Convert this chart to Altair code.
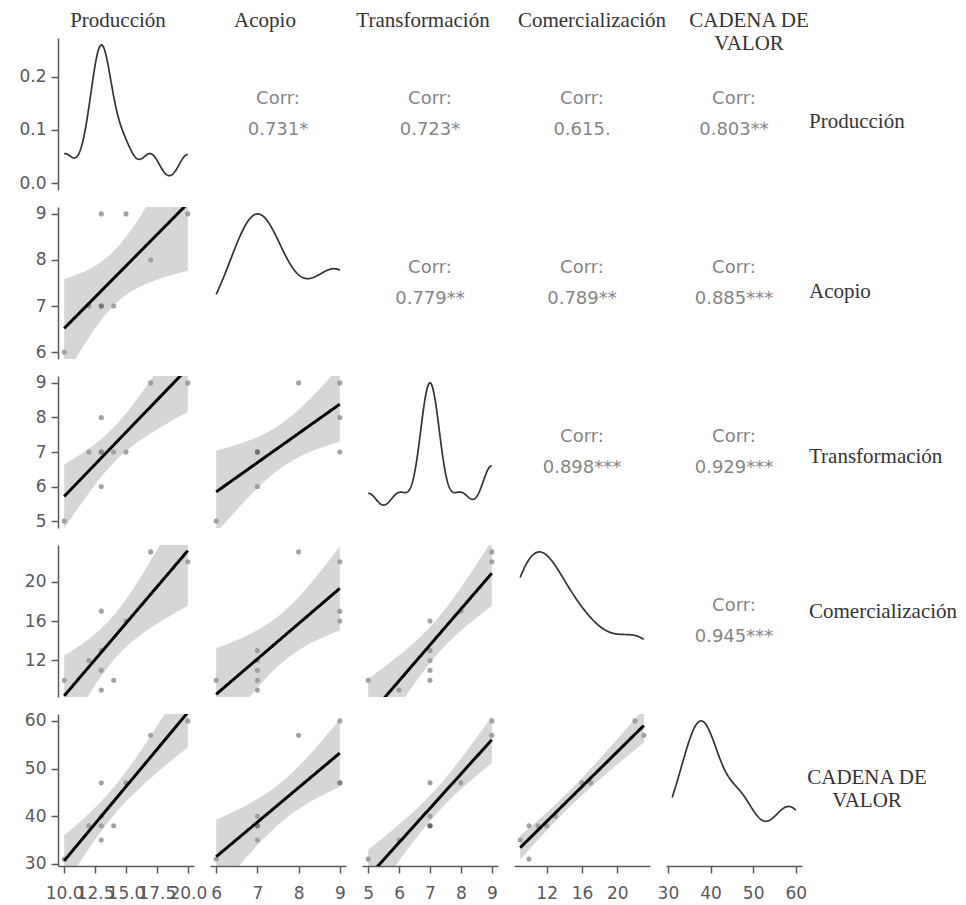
import numpy as np
import pandas as pd
import altair as alt

# ---------------- data ----------------
labels = ["Producción", "Acopio", "Transformación", "Comercialización", "CADENA DE\nVALOR"]
produccion       = [10, 20, 17, 12, 13, 13, 13, 14, 15, 13]
acopio           = [6, 9, 8, 7, 9, 7, 7, 7, 9, 7]
transformacion   = [5, 9, 9, 7, 8, 7, 6, 7, 7, 7]
comercializacion = [10, 22, 23, 12, 17, 11, 9, 10, 16, 13]
cadena_valor     = [31, 60, 57, 38, 47, 38, 35, 38, 47, 40]

# correlation labels, upper triangle in row order
corr_values = ["0.731*", "0.723*", "0.615.", "0.803**",
               "0.779**", "0.789**", "0.885***",
               "0.898***", "0.929***",
               "0.945***"]

axis_ticks = [[10, 12.5, 15, 17.5, 20], [6, 7, 8, 9], [5, 6, 7, 8, 9], [12, 16, 20], [30, 40, 50, 60]]
axis_formats = [".1f", "d", "d", "d", "d"]
density_ticks = [0.0, 0.1, 0.2]

# ---------------- layout / style constants ----------------
W, H = 136, 152
TOP_DX = [-8, -13, -7, 10, 15]
RIGHT_Y = [73, 74, 70, 56, 53]
T975 = {7: 2.364624, 8: 2.306004, 9: 2.262157, 10: 2.228139}

cols = [np.asarray(v, float) for v in [produccion, acopio, transformacion, comercializacion, cadena_valor]]


def expand(v):
    lo, hi = v.min(), v.max()
    p = 0.05 * (hi - lo)
    return [float(lo - p), float(hi + p)]


def bw_nrd0(v):
    sd = v.std(ddof=1)
    q1, q3 = np.percentile(v, [25, 75])
    lo = min(sd, (q3 - q1) / 1.34) if q3 > q1 else sd
    return 0.9 * lo * len(v) ** -0.2


def kde(v, grid):
    h = bw_nrd0(v)
    u = (grid[:, None] - v[None, :]) / h
    return np.exp(-0.5 * u ** 2).sum(axis=1) / (len(v) * h * np.sqrt(2 * np.pi))


doms = [expand(v) for v in cols]


def xenc(j, show, field="x"):
    ax = alt.Axis(values=axis_ticks[j], format=axis_formats[j], title=None,
                  labelOverlap=False, labelFlush=False) if show else None
    return alt.X(f"{field}:Q", scale=alt.Scale(domain=doms[j], nice=False, zero=False), axis=ax)


def yenc(i, show, field="y", domain=None, values=None, fmt=None):
    dom = domain if domain is not None else doms[i]
    ax = alt.Axis(values=values if values is not None else axis_ticks[i],
                  format=fmt if fmt else axis_formats[i], title=None,
                  labelOverlap=False, labelFlush=False) if show else None
    return alt.Y(f"{field}:Q", scale=alt.Scale(domain=dom, nice=False, zero=False), axis=ax)


pairs = [(i, j) for i in range(5) for j in range(i + 1, 5)]
corr_map = {p: c for p, c in zip(pairs, corr_values)}

panels = []
for i in range(5):
    for j in range(5):
        layers = []
        showx, showy = (i == 4), (j == 0)
        if i > j:
            x, y = cols[j], cols[i]
            n = len(x)
            xm, ym = x.mean(), y.mean()
            sxx = ((x - xm) ** 2).sum()
            b = ((x - xm) * (y - ym)).sum() / sxx
            a = ym - b * xm
            s = np.sqrt(((y - a - b * x) ** 2).sum() / (n - 2))
            g = np.linspace(x.min(), x.max(), 80)
            fit = a + b * g
            se = s * np.sqrt(1 / n + (g - xm) ** 2 / sxx)
            t = T975[n - 2]
            pts = pd.DataFrame({"x": x, "y": y})
            band = pd.DataFrame({"x": g, "fit": fit, "lo": fit - t * se, "hi": fit + t * se})
            layers.append(alt.Chart(pts).mark_circle(color="#555555", opacity=0.55, size=26).encode(
                x=xenc(j, showx), y=yenc(i, showy)))
            layers.append(alt.Chart(band).mark_area(color="#999999", opacity=0.4, clip=True).encode(
                x=xenc(j, showx), y=yenc(i, showy, "lo"), y2="hi:Q"))
            layers.append(alt.Chart(band).mark_line(color="black", strokeWidth=3, clip=True).encode(
                x=xenc(j, showx), y=yenc(i, showy, "fit")))
        elif i == j:
            v = cols[i]
            g = np.linspace(v.min(), v.max(), 256)
            d = kde(v, g)
            m = d.max()
            dens = pd.DataFrame({"x": g, "y": d})
            layers.append(alt.Chart(dens).mark_line(color="#333333", strokeWidth=1.7).encode(
                x=xenc(j, showx),
                y=yenc(i, showy, domain=[-0.05 * m, 1.05 * m], values=density_ticks, fmt=".1f")))
        else:
            txt = pd.DataFrame({"x": [sum(doms[j]) / 2], "y": [sum(doms[i]) / 2],
                                "label": ["Corr:\n" + corr_map[(i, j)]]})
            layers.append(alt.Chart(txt).mark_text(font="DejaVu Sans", fontSize=18, color="#858585",
                                                   lineBreak="\n", lineHeight=31, baseline="middle",
                                                   align="center", dy=-15.5).encode(
                x=xenc(j, False), y=yenc(i, False), text="label:N"))
        if i == 0:
            layers.append(alt.Chart(pd.DataFrame({"label": [labels[j]]})).mark_text(
                font="Liberation Serif", fontSize=21, color="#333333", baseline="top", align="center",
                lineBreak="\n", lineHeight=23).encode(
                text="label:N", x=alt.value(W / 2 + TOP_DX[j]), y=alt.value(-28)))
        if j == 4:
            is_two = "\n" in labels[i]
            layers.append(alt.Chart(pd.DataFrame({"label": [labels[i]]})).mark_text(
                font="Liberation Serif", fontSize=21, color="#333333", baseline="top",
                align="center" if is_two else "left", lineBreak="\n", lineHeight=23).encode(
                text="label:N", x=alt.value(W + 7 + (58 if is_two else 0)), y=alt.value(RIGHT_Y[i])))
        panels.append(alt.layer(*layers).properties(width=W, height=H))

chart = alt.concat(*panels, columns=5, spacing={"row": 17, "column": 16}, bounds="flush").properties(
    padding={"left": 10, "top": 2, "right": 0, "bottom": 0}
).configure_view(stroke=None).configure_axis(
    domainColor="#595959", domainWidth=1.5, tickColor="#595959", tickWidth=1.5, tickSize=7,
    labelColor="#595959", labelFont="DejaVu Sans", labelFontSize=17, grid=False
).configure_axisX(labelPadding=12).configure_axisY(labelPadding=5)

chart.save("out.html", embed_options={"renderer": "svg", "actions": False})
